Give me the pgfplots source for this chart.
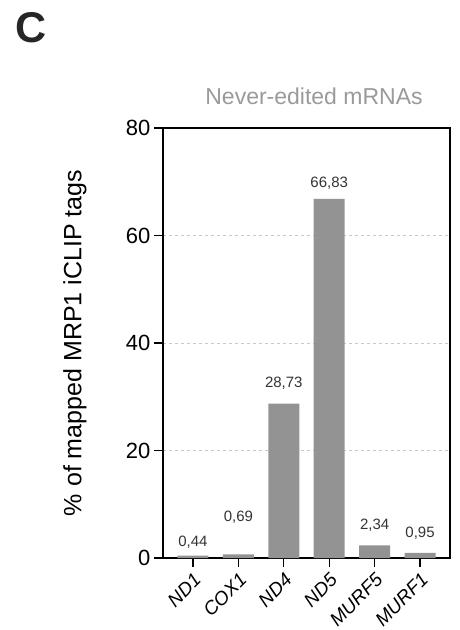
\documentclass[border=0pt]{standalone}
\usepackage{pgfplots}
\pgfplotsset{compat=1.18}
\usepackage{fontspec}
\setmainfont{Liberation Sans}
\definecolor{barg}{HTML}{939393}
\definecolor{titleg}{HTML}{9A9A9A}
\definecolor{gridg}{HTML}{C8C8C8}
\definecolor{lblg}{HTML}{333333}
\begin{document}
\begin{tikzpicture}[x=1pt,y=1pt]
\useasboundingbox (0,0) rectangle (459,630);
\node[anchor=base west, font=\fontsize{43}{43}\selectfont\bfseries, inner sep=0, text=black!85] at (15,587) {C};
\begin{axis}[
  at={(163pt,72pt)}, anchor=south west, scale only axis,
  width=287pt, height=430pt,
  ymin=0, ymax=80, xmin=-0.66, xmax=5.66,
  ytick={0,20,40,60,80},
  xtick={0,1,2,3,4,5},
  xticklabels={ND1,COX1,ND4,ND5,MURF5,MURF1},
  xtick pos=bottom, ytick pos=left,
  tick align=outside,
  major tick length=9pt,
  every tick/.style={black, line width=1.3pt},
  axis line style={line width=1.3pt},
  ymajorgrids,
  grid style={dashed, gridg, line width=0.6pt},
  /pgf/number format/assume math mode=true,
  yticklabel style={font=\fontsize{22}{26}\selectfont},
  xticklabel style={rotate=45, anchor=north east, font=\fontsize{19}{22}\selectfont\itshape},
  ylabel={\% of mapped MRP1 iCLIP tags},
  every axis y label/.style={at={(axis description cs:-0.3066,0.5)}, rotate=90, anchor=center, font=\fontsize{25}{30}\selectfont},
]
\addplot[ybar, bar width=31pt, fill=barg, draw=none] coordinates {
  (0,0.44) (1,0.69) (2,28.73) (3,66.83) (4,2.34) (5,0.95)
};
\begin{scope}[every node/.style={font=\fontsize{15}{18}\selectfont, text=lblg}]
\node at (axis cs:0,3.0) {0,44};
\node at (axis cs:1,7.6) {0,69};
\node at (axis cs:2,32.6) {28,73};
\node at (axis cs:3,69.8) {66,83};
\node at (axis cs:4,6.1) {2,34};
\node at (axis cs:5,4.65) {0,95};
\end{scope}
\end{axis}
\node[font=\fontsize{23}{28}\selectfont, text=titleg] at (314,534) {Never-edited mRNAs};
\end{tikzpicture}
\end{document}
